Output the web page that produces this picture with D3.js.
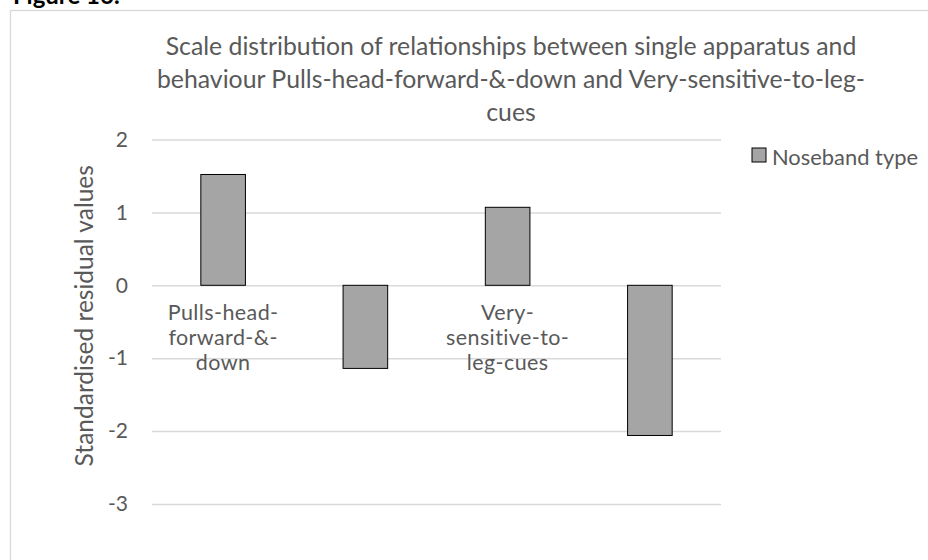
<!DOCTYPE html>
<html><head><meta charset="utf-8">
<script src="https://cdn.jsdelivr.net/npm/d3@7"></script>
<style>body{margin:0;background:#fff;overflow:hidden} svg{display:block}</style>
</head><body>
<svg id="chart" width="928" height="560"></svg>
<script>
// ---- data ----
const categoryLabels = ["Pulls-head-forward-&-down", "", "Very-sensitive-to-leg-cues", ""];
const values = [1.52, -1.14, 1.07, -2.06];
const seriesName = "Noseband type";
const yTicks = [2, 1, 0, -1, -2, -3];
const titleLines = [
  "Scale distribution of relationships between single apparatus and",
  "behaviour Pulls-head-forward-&-down and Very-sensitive-to-leg-",
  "cues"
];
const yAxisTitle = "Standardised residual values";
const figureLabel = "Figure 16.";

// ---- layout ----
const svg = d3.select("#chart");
const font = "Lato, 'Open Sans', sans-serif";
const textColor = "#595959";
const plot = {left: 152, right: 721, top: 139.5, bottom: 504};

// figure label (cut off at top, as in the source page)
svg.append("text").attr("x", 13).attr("y", 4)
  .attr("font-family", font).attr("font-weight", "bold").attr("font-size", 24)
  .attr("fill", "#000").text(figureLabel);

// chart border
svg.append("rect").attr("x", 10.5).attr("y", 10.5).attr("width", 1000).attr("height", 700)
  .attr("fill", "none").attr("stroke", "#d9d9d9").attr("stroke-width", 1.3);

const x = d3.scaleBand().domain(d3.range(values.length))
  .range([plot.left, plot.right]).paddingInner(0.6865).paddingOuter(0.34325);
const y = d3.scaleLinear().domain([-3, 2]).range([plot.bottom, plot.top]);

// gridlines + tick labels
const yAxis = d3.axisLeft(y).tickValues(yTicks).tickSize(-(plot.right - plot.left)).tickPadding(24)
  .tickFormat(d3.format("d"));
const gy = svg.append("g").attr("transform", `translate(${plot.left},0)`).call(yAxis);
gy.select(".domain").remove();
gy.selectAll(".tick line").attr("stroke", "#d9d9d9").attr("stroke-width", 1.5);
gy.selectAll(".tick text").attr("font-family", font).attr("font-size", 21).attr("fill", textColor)
  .text(d => d < 0 ? "-" + Math.abs(d) : d);

// bars
svg.append("g").selectAll("rect").data(values).join("rect")
  .attr("x", (d, i) => x(i))
  .attr("width", x.bandwidth())
  .attr("y", d => y(Math.max(0, d)))
  .attr("height", d => Math.abs(y(d) - y(0)))
  .attr("fill", "#a5a5a5").attr("stroke", "#000").attr("stroke-width", 1);

// category labels (wrapped after hyphens)
const catFont = 21.5;
const measurer = svg.append("text").attr("font-family", font).attr("font-size", catFont).attr("visibility", "hidden");
function wrap(label, maxW) {
  if (!label) return [];
  const parts = label.match(/[^-]+-?|-/g);
  const lines = [];
  let cur = "";
  parts.forEach(p => {
    const test = cur + p;
    measurer.text(test);
    if (cur && measurer.node().getComputedTextLength() > maxW) { lines.push(cur); cur = p; }
    else cur = test;
  });
  if (cur) lines.push(cur);
  return lines;
}
const catG = svg.append("g");
categoryLabels.forEach((lab, i) => {
  const lines = wrap(lab, x.step() * 0.9);
  const t = catG.append("text").attr("text-anchor", "middle")
    .attr("font-family", font).attr("font-size", catFont).attr("fill", textColor)
    .attr("letter-spacing", 0.4);
  lines.forEach((ln, j) => {
    t.append("tspan").attr("x", x(i) + x.bandwidth() / 2).attr("y", 320 + j * 25).text(ln);
  });
});
measurer.remove();

// y axis title
svg.append("text")
  .attr("transform", `translate(93,${(plot.top + plot.bottom) / 2 - 6}) rotate(-90)`)
  .attr("text-anchor", "middle").attr("font-family", font).attr("font-size", 24.5)
  .attr("fill", textColor).text(yAxisTitle);

// title
const tt = svg.append("text").attr("text-anchor", "middle")
  .attr("font-family", font).attr("font-size", 24.8).attr("fill", textColor);
titleLines.forEach((ln, j) => tt.append("tspan").attr("x", 511).attr("y", 55 + j * 33).text(ln));

// legend
const lg = svg.append("g").attr("transform", "translate(752,148)");
lg.append("rect").attr("width", 14).attr("height", 14)
  .attr("fill", "#a5a5a5").attr("stroke", "#000").attr("stroke-width", 1);
lg.append("text").attr("x", 20).attr("y", 17).attr("font-family", font).attr("font-size", 21.9)
  .attr("fill", textColor).text(seriesName);
</script>
</body></html>
